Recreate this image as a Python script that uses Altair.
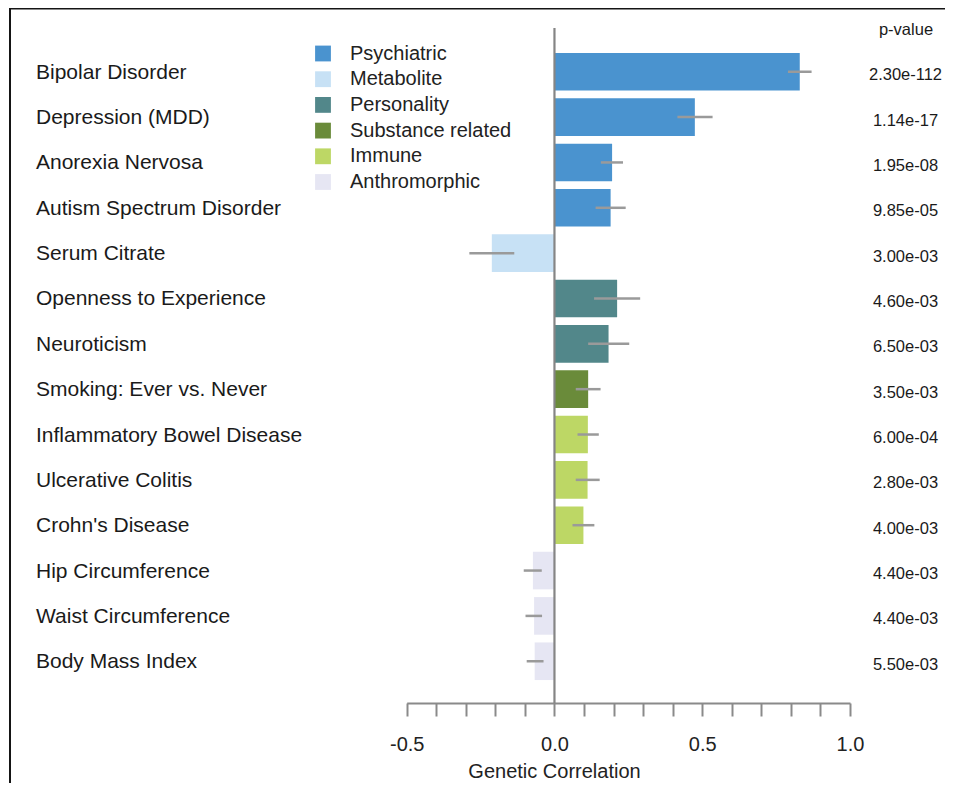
import altair as alt
import pandas as pd

categories = [
    "Bipolar Disorder", "Depression (MDD)", "Anorexia Nervosa",
    "Autism Spectrum Disorder", "Serum Citrate", "Openness to Experience",
    "Neuroticism", "Smoking: Ever vs. Never", "Inflammatory Bowel Disease",
    "Ulcerative Colitis", "Crohn's Disease", "Hip Circumference",
    "Waist Circumference", "Body Mass Index",
]
groups = [
    "Psychiatric", "Psychiatric", "Psychiatric", "Psychiatric",
    "Metabolite", "Personality", "Personality", "Substance related",
    "Immune", "Immune", "Immune",
    "Anthromorphic", "Anthromorphic", "Anthromorphic",
]
rg = [0.83, 0.475, 0.195, 0.19, -0.212, 0.212, 0.183, 0.114, 0.113, 0.112,
      0.098, -0.073, -0.069, -0.067]
err_lo = [0.79, 0.416, 0.157, 0.139, -0.288, 0.134, 0.114, 0.072, 0.078,
          0.072, 0.061, -0.104, -0.098, -0.094]
err_hi = [0.87, 0.535, 0.232, 0.241, -0.136, 0.29, 0.253, 0.156, 0.15,
          0.153, 0.135, -0.043, -0.042, -0.037]
pvals = ["2.30e-112", "1.14e-17", "1.95e-08", "9.85e-05", "3.00e-03",
         "4.60e-03", "6.50e-03", "3.50e-03", "6.00e-04", "2.80e-03",
         "4.00e-03", "4.40e-03", "4.40e-03", "5.50e-03"]

group_names = ["Psychiatric", "Metabolite", "Personality",
               "Substance related", "Immune", "Anthromorphic"]
group_colors = ["#4a93cf", "#c7e1f5", "#52878a", "#6a8b3a", "#bdd765",
                "#e6e6f3"]

tick_values = [-0.5, -0.4, -0.3, -0.2, -0.1, 0.0, 0.1, 0.2, 0.3, 0.4, 0.5,
               0.6, 0.7, 0.8, 0.9, 1.0]
tick_labels = {-0.5: "-0.5", 0.0: "0.0", 0.5: "0.5", 1.0: "1.0"}

df = pd.DataFrame({
    "trait": categories, "group": groups, "rg": rg,
    "lo": err_lo, "hi": err_hi, "p": pvals,
})

label_expr = " : ".join(
    f"datum.value == {v} ? '{t}'" for v, t in tick_labels.items()
) + " : ''"

FONT = "Liberation Sans, Arial, Helvetica, sans-serif"

xscale = alt.Scale(domain=[-0.5, 1.0], range=[398.7, 842], nice=False, zero=False)
yscale = alt.Scale(domain=categories, range=[20, 697], paddingInner=0.17,
                   paddingOuter=0.55)

base = alt.Chart(df)

bars = base.mark_bar().encode(
    x=alt.X("rg:Q", scale=xscale, axis=alt.Axis(
        values=tick_values, labelExpr=label_expr, title="Genetic Correlation",
        grid=False, domainColor="#8a8a8a", domainWidth=2, tickColor="#8a8a8a",
        tickWidth=2, tickSize=13, labelFontSize=20, labelColor="#222222",
        labelBaseline="alphabetic", labelPadding=34, labelFlush=False,
        labelOverlap=False, titleFontSize=20, titleFontWeight="normal",
        titleColor="#222222", titleX=546, titleY=74, titleAlign="center",
        titleBaseline="alphabetic", titleAnchor="start",
    )),
    x2=alt.datum(0),
    y=alt.Y("trait:N", scale=yscale, axis=None),
    color=alt.Color("group:N", scale=alt.Scale(domain=group_names,
                                               range=group_colors),
                    legend=alt.Legend(
                        title=None, orient="none", legendX=305, legendY=35.5,
                        symbolType="square", symbolSize=250,
                        symbolStrokeWidth=0, labelFontSize=20,
                        labelColor="#222222", labelOffset=17, rowPadding=5.7,
                        padding=0, labelLimit=300,
                    )),
)

errs = base.mark_rule(color="#9a9a9a", strokeWidth=2.5).encode(
    x=alt.X("lo:Q", scale=xscale),
    x2="hi:Q",
    y=alt.Y("trait:N", scale=yscale),
)

zero = alt.Chart(pd.DataFrame({"z": [0.0]})).mark_rule(
    color="#858585", strokeWidth=2.2
).encode(
    x=alt.X("z:Q", scale=xscale),
    y=alt.value(20),
    y2=alt.value(695),
)

names = base.mark_text(align="left", baseline="alphabetic", dy=7,
                       fontSize=21, color="#1a1a1a").encode(
    x=alt.value(28),
    y=alt.Y("trait:N", scale=yscale),
    text="trait:N",
)

ptext = base.mark_text(align="center", baseline="alphabetic", dy=8.5,
                       fontSize=16.5, color="#1a1a1a").encode(
    x=alt.value(897.5),
    y=alt.Y("trait:N", scale=yscale),
    text="p:N",
)

phead = alt.Chart(pd.DataFrame({"t": ["p-value"]})).mark_text(
    align="center", baseline="alphabetic", fontSize=16.5, color="#1a1a1a"
).encode(
    x=alt.value(898),
    y=alt.value(27),
    text="t:N",
)

frame = alt.Chart(pd.DataFrame({"a": [0]})).mark_rect(
    filled=False, stroke="#151515", strokeWidth=2
).encode(
    x=alt.value(2), x2=alt.value(1200), y=alt.value(0.5), y2=alt.value(1200),
)

chart = alt.layer(bars, errs, zero, names, ptext, phead, frame).properties(
    width=937, height=695,
    autosize=alt.AutoSizeParams(type="none"),
    padding={"left": 0, "top": 0, "right": 0, "bottom": 80},
).configure(font=FONT).configure_view(stroke=None)

chart.save("out.html", embed_options={"renderer": "svg", "actions": False})
